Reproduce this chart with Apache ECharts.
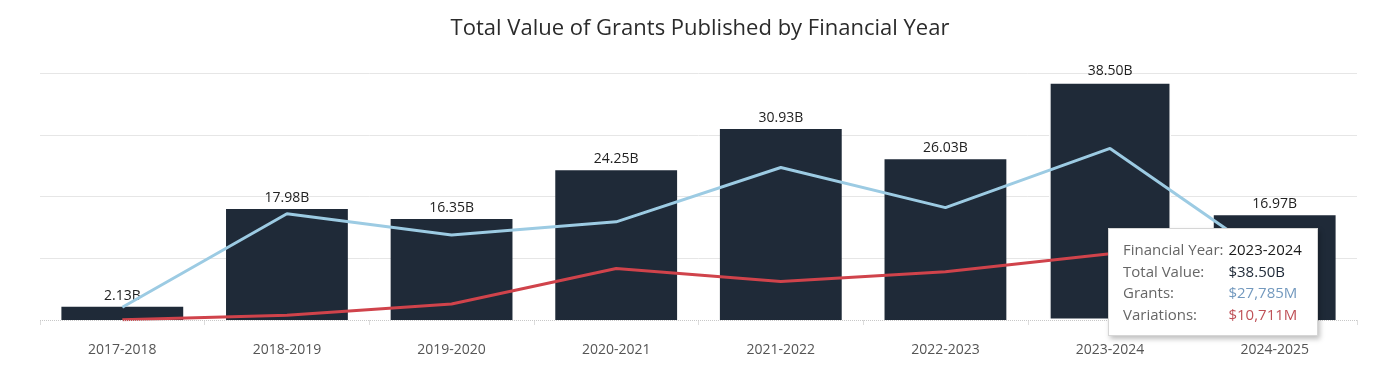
<!DOCTYPE html>
<html>
<head>
<meta charset="utf-8">
<script src="https://cdn.jsdelivr.net/npm/echarts@6/dist/echarts.min.js"></script>
<style>
html,body{margin:0;padding:0;background:#fff;}
#chart{width:1400px;height:373px;}
</style>
</head>
<body>
<div id="chart"></div>
<script>
// Data (values in billions of dollars)
var categories = ['2017-2018','2018-2019','2019-2020','2020-2021','2021-2022','2022-2023','2023-2024','2024-2025'];
var totalValue = [2.13, 17.98, 16.35, 24.25, 30.93, 26.03, 38.50, 16.97];
var grants =     [2.07, 17.20, 13.75, 15.90, 24.70, 18.20, 27.785, 9.30];
var variations = [0.06, 0.78, 2.60, 8.35, 6.23, 7.83, 10.711, 7.67];
var yTicks = [0, 10, 20, 30, 40];

var selectedIndex = 6;

var chart = echarts.init(document.getElementById('chart'), null, {renderer: 'canvas'});

var fontFam = '"Open Sans", "Noto Sans", Arial, sans-serif';

var barData = totalValue.map(function (v, i) {
  if (i === selectedIndex) {
    return {value: v, itemStyle: {color: '#1f2a38', borderColor: '#ffffff', borderWidth: 1.5}};
  }
  return v;
});

function fmtM(b) {
  return '$' + Math.round(b * 1000).toLocaleString('en-US') + 'M';
}

var option = {
  animation: false,
  backgroundColor: '#ffffff',
  title: {
    text: 'Total Value of Grants Published by Financial Year',
    left: 'center',
    top: 13,
    textStyle: {fontFamily: fontFam, fontSize: 22, fontWeight: 'normal', color: '#2b2b2b'}
  },
  grid: {left: 40, right: 43, top: 73, bottom: 53, containLabel: false},
  tooltip: {
    trigger: 'item',
    triggerOn: 'none',
    alwaysShowContent: true,
    transitionDuration: 0,
    position: [1108, 228],
    backgroundColor: '#ffffff',
    borderColor: '#d6d6d6',
    borderWidth: 1,
    padding: [10, 14, 10, 14],
    extraCssText: 'box-shadow: 2px 3px 5px rgba(0,0,0,0.25); border-radius:0;',
    formatter: function (p) {
      var i = p.dataIndex;
      var lab = 'color:#666666;padding:0 4px 0 0;';
      var row = 'line-height:19.5px;';
      return '<div style="font-family:' + fontFam.replace(/"/g, "'") + ';font-size:15px;">' +
        '<table style="border-collapse:collapse;">' +
        '<tr style="' + row + '"><td style="' + lab + '">Financial Year:</td><td style="color:#1a1a1a;">' + categories[i] + '</td></tr>' +
        '<tr style="' + row + '"><td style="' + lab + '">Total Value:</td><td style="color:#1f2a38;">$' + totalValue[i].toFixed(2) + 'B</td></tr>' +
        '<tr style="' + row + '"><td style="' + lab + '">Grants:</td><td style="color:#7399be;">' + fmtM(grants[i]) + '</td></tr>' +
        '<tr style="' + row + '"><td style="' + lab + '">Variations:</td><td style="color:#bf5057;">' + fmtM(variations[i]) + '</td></tr>' +
        '</table></div>';
    }
  },
  xAxis: {
    type: 'category',
    data: categories,
    offset: 15,
    axisLine: {show: false},
    axisTick: {show: true, length: 5, lineStyle: {color: '#dddddd'}},
    axisLabel: {fontFamily: fontFam, fontSize: 14, color: '#555555', margin: 8}
  },
  yAxis: {
    type: 'value',
    min: yTicks[0],
    max: yTicks[yTicks.length - 1],
    interval: 10,
    axisLine: {show: false},
    axisTick: {show: false},
    axisLabel: {show: false},
    splitLine: {show: true, showMinLine: false, lineStyle: {color: '#e6e6e6', width: 1}}
  },
  series: [
    {
      name: 'Total Value',
      type: 'bar',
      data: barData,
      barWidth: '74%',
      itemStyle: {color: '#1f2a38'},
      label: {
        show: true,
        position: 'top',
        distance: 4,
        fontFamily: fontFam,
        fontSize: 14,
        color: '#222222',
        formatter: function (p) { return totalValue[p.dataIndex].toFixed(2) + 'B'; }
      },
      markLine: {
        silent: true,
        symbol: ['none', 'none'],
        label: {show: false},
        lineStyle: {color: '#c8c8c8', type: 'dotted', width: 1},
        data: [{yAxis: 0}]
      },
      z: 2
    },
    {
      name: 'Grants',
      type: 'line',
      data: grants,
      symbol: 'none',
      lineStyle: {color: '#9ccbe3', width: 3},
      z: 3
    },
    {
      name: 'Variations',
      type: 'line',
      data: variations,
      symbol: 'none',
      lineStyle: {color: '#d0434b', width: 3},
      z: 3
    }
  ]
};

chart.setOption(option);
chart.dispatchAction({type: 'showTip', seriesIndex: 0, dataIndex: selectedIndex});
</script>
</body>
</html>
